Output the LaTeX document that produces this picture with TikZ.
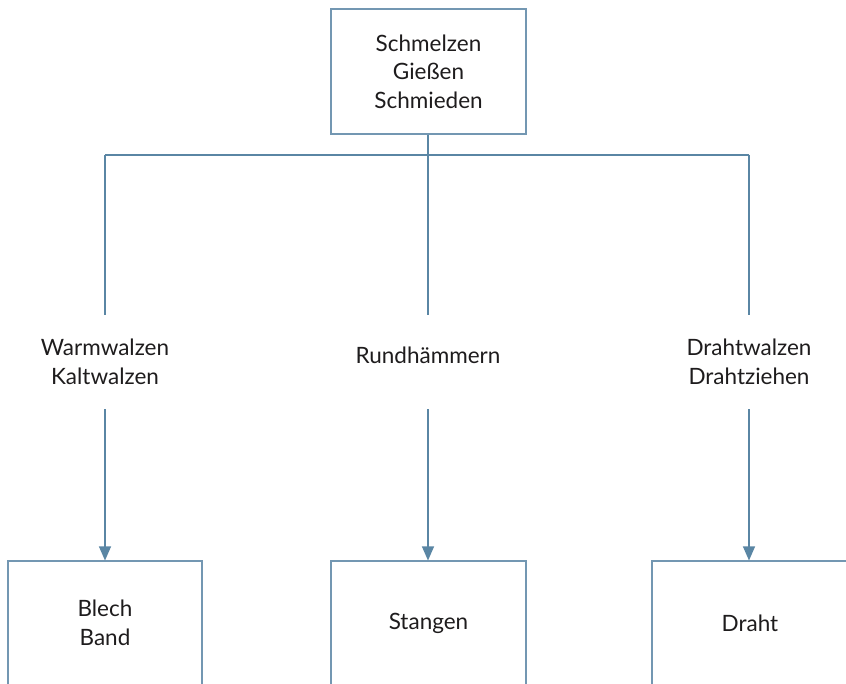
\documentclass[tikz,border=0pt]{standalone}
\usepackage{fontspec}
\setmainfont{Lato}
\usetikzlibrary{arrows.meta}
\definecolor{linec}{HTML}{5A86A4}
\definecolor{boxc}{HTML}{7397B2}
\definecolor{txt}{HTML}{1E1C1D}
\begin{document}
\begin{tikzpicture}[x=1pt,y=-1pt,
  every node/.style={font=\fontsize{22.5}{28.5}\selectfont, text=txt, align=center, inner sep=0pt},
  box/.style={draw=boxc, line width=1.1pt},
  lbl/.style={minimum height=94pt, minimum width=150pt},
  conn/.style={draw=linec, line width=1.1pt},
  arr/.style={conn, -{Triangle[length=14pt,width=12pt]}}]
\useasboundingbox (0,0) rectangle (846,684);
\clip (0,0) rectangle (846,684);
\node[box, minimum width=195pt, minimum height=125pt] (top) at (428.5,71.5) {Schmelzen\\Gießen\\Schmieden};
\node[lbl] (l1) at (105,362) {Warmwalzen\\Kaltwalzen};
\node (l2) at (428,355) {Rundhämmern};
\node[lbl] (l3) at (749,362) {Drahtwalzen\\Drahtziehen};
\node[box, minimum width=194pt, minimum height=124pt] (b1) at (105,623) {Blech\\Band};
\node[box, minimum width=195pt, minimum height=124pt] (b2) at (428.5,623) {Stangen};
\node[box, minimum width=196pt, minimum height=124pt] (b3) at (750,623) {Draht};
\coordinate (j) at (428,155);
\draw[conn] (top.south -| l2) -- (l2 |- l1.north);
\draw[conn] (j -| l1.north) -- (j -| l3.north);
\draw[conn] (j -| l1.north) -- (l1.north);
\draw[conn] (j -| l3.north) -- (l3.north);
\draw[arr] (l1.south) -- (l1.south |- b1.north);
\draw[arr] (l2 |- l1.south) -- (l2 |- b2.north);
\draw[arr] (l3.south) -- (l3.south |- b3.north);
\end{tikzpicture}
\end{document}
